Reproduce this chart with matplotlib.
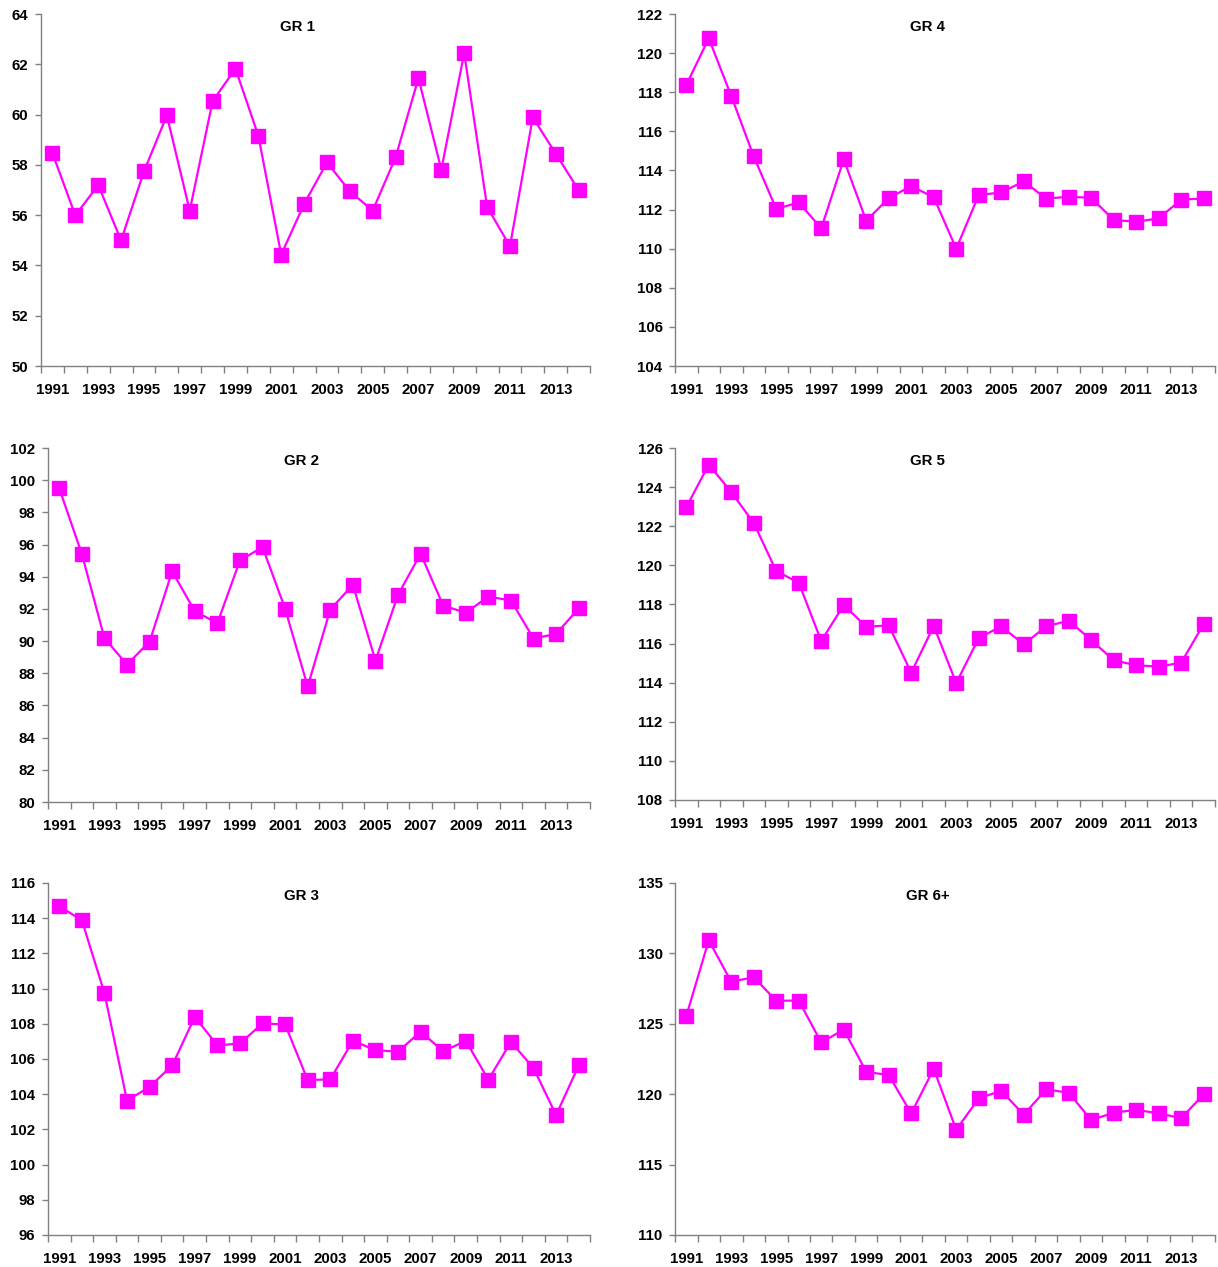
import matplotlib.pyplot as plt
from matplotlib.ticker import FixedLocator, MultipleLocator

plt.rcParams['font.family'] = ['Liberation Sans', 'DejaVu Sans']
plt.rcParams['font.weight'] = 'bold'

years = list(range(1991, 2015))

gr1 = [58.46, 55.99, 57.2, 55.0, 57.74, 59.97, 56.18, 60.53, 61.83, 59.16, 54.43, 56.44,
       58.1, 56.95, 56.18, 58.3, 61.45, 57.81, 62.45, 56.34, 54.76, 59.89, 58.45, 57.0]
gr2 = [99.49, 95.41, 90.18, 88.54, 89.97, 94.33, 91.86, 91.11, 95.01, 95.84, 92.01, 87.18,
       91.96, 93.5, 88.79, 92.88, 95.43, 92.21, 91.76, 92.77, 92.52, 90.16, 90.45, 92.03]
gr3 = [114.68, 113.88, 109.74, 103.63, 104.42, 105.63, 108.39, 106.77, 106.88, 108.02, 107.96, 104.8,
       104.84, 107.03, 106.5, 106.41, 107.56, 106.43, 107.03, 104.82, 106.97, 105.48, 102.81, 105.63]
gr4 = [118.37, 120.76, 117.81, 114.72, 112.03, 112.37, 111.04, 114.57, 111.43, 112.59, 113.2, 112.63,
       110.0, 112.74, 112.88, 113.44, 112.56, 112.66, 112.6, 111.47, 111.38, 111.55, 112.51, 112.57]
gr5 = [122.97, 125.15, 123.75, 122.16, 119.71, 119.11, 116.13, 117.97, 116.86, 116.93, 114.51, 116.9,
       113.98, 116.28, 116.88, 115.96, 116.88, 117.17, 116.18, 115.14, 114.89, 114.82, 115.02, 117.0]
gr6 = [125.54, 130.93, 127.98, 128.31, 126.63, 126.65, 123.67, 124.59, 121.59, 121.35, 118.63, 121.8,
       117.47, 119.7, 120.24, 118.54, 120.34, 120.1, 118.16, 118.68, 118.89, 118.63, 118.3, 119.98]

# (title, values, y range, y step, axes rect in figure fractions)
panels = [
    ("GR 1", gr1, (50, 64), 2, [0.0337, 0.7111, 0.4507, 0.2778]),
    ("GR 4", gr4, (104, 122), 2, [0.5542, 0.7111, 0.4433, 0.2778]),
    ("GR 2", gr2, (80, 102), 2, [0.0394, 0.3670, 0.4450, 0.2794]),
    ("GR 5", gr5, (108, 126), 2, [0.5542, 0.3686, 0.4433, 0.2778]),
    ("GR 3", gr3, (96, 116), 2, [0.0394, 0.0253, 0.4450, 0.2778]),
    ("GR 6+", gr6, (110, 135), 5, [0.5542, 0.0253, 0.4433, 0.2778]),
]

fig = plt.figure(figsize=(12.18, 12.67), dpi=100)

for title, values, (ymin, ymax), step, rect in panels:
    ax = fig.add_axes(rect)
    x = list(range(len(years)))
    ax.plot(x, values, color='#ff00ff', linewidth=1.6, marker='s', markersize=9.5,
            markerfacecolor='#ff00ff', markeredgecolor='#ff00ff', clip_on=False)

    ax.set_xlim(-0.5, len(years) - 0.5)
    ax.set_ylim(ymin, ymax)

    # category axis: tick marks between years, labels on every other year
    ax.xaxis.set_major_locator(FixedLocator(x[::2]))
    ax.set_xticklabels([str(y) for y in years[::2]])
    ax.xaxis.set_minor_locator(FixedLocator([i - 0.5 for i in range(len(years) + 1)]))
    ax.tick_params(axis='x', which='major', length=0, pad=12.5, labelsize=10.8)
    ax.tick_params(axis='x', which='minor', length=5, width=1, color='#808080', direction='out')

    ax.yaxis.set_major_locator(MultipleLocator(step))
    ax.tick_params(axis='y', length=4, width=1, color='#808080', direction='out', pad=5,
                   labelsize=10.8)

    for side in ['top', 'right']:
        ax.spines[side].set_visible(False)
    for side in ['left', 'bottom']:
        ax.spines[side].set_color('#808080')
        ax.spines[side].set_linewidth(1)

    ax.text(0.468, 0.962, title, transform=ax.transAxes, ha='center', va='center',
            fontsize=10.8, fontweight='bold')

fig.savefig('out.png', dpi=100)
